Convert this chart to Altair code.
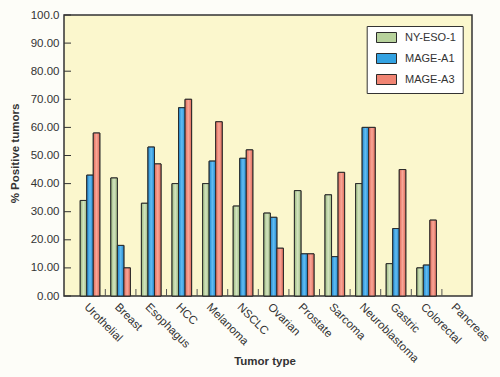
import altair as alt
import pandas as pd

categories = ["Urothelial", "Breast", "Esophagus", "HCC", "Melanoma", "NSCLC", "Ovarian",
              "Prostate", "Sarcoma", "Neuroblastoma", "Gastric", "Colorectal", "Pancreas"]
series_names = ["NY-ESO-1", "MAGE-A1", "MAGE-A3"]
ny_eso_1 = [34, 42, 33, 40, 40, 32, 29.5, 37.5, 36, 40, 11.5, 10, 0]
mage_a1 = [43, 18, 53, 67, 48, 49, 28, 15, 14, 60, 24, 11, 0]
mage_a3 = [58, 10, 47, 70, 62, 52, 17, 15, 44, 60, 45, 27, 0]
y_ticks = [0, 10, 20, 30, 40, 50, 60, 70, 80, 90, 100]

flat_colors = ["#B7D29C", "#33A2E2", "#F08473"]
edge_colors = ["#9BB97F", "#1E86CF", "#DE6A59"]
mid_colors = ["#D3E4BF", "#62BDF2", "#F9A697"]

rows = []
for name, vals in zip(series_names, [ny_eso_1, mage_a1, mage_a3]):
    for c, v in zip(categories, vals):
        rows.append({"cat": c, "series": name, "value": v})
df = pd.DataFrame(rows)

FONT = "Liberation Sans"
TXT = "#333333"


def grad(edge, mid):
    return {"gradient": "linear", "x1": 0, "y1": 0, "x2": 1, "y2": 0,
            "stops": [{"offset": 0, "color": edge}, {"offset": 0.5, "color": mid},
                      {"offset": 1, "color": edge}]}


x_scale = alt.Scale(domain=categories, paddingInner=0.36, paddingOuter=0.347, align=0.764)
xo_scale = alt.Scale(domain=series_names, paddingInner=0, paddingOuter=0)
y_scale = alt.Scale(domain=[0, 100], nice=False)

x_axis = alt.Axis(title="Tumor type", labelAngle=45, labelAlign="left", labelBaseline="top",
                  labelPadding=5, labelFontSize=11.5, labelColor=TXT, labelFont=FONT,
                  ticks=False, domain=False, grid=False,
                  titleFont=FONT, titleFontSize=11.5, titleFontWeight="bold", titleColor=TXT,
                  titleX=200.5, titleY=68, titleAlign="center", titleBaseline="alphabetic")
y_axis = alt.Axis(title="% Positive tumors", values=y_ticks,
                  labelExpr="datum.value == 100 ? '100.0' : format(datum.value, '.2f')",
                  labelPadding=5, labelFontSize=11.5, labelColor=TXT, labelFont=FONT,
                  ticks=False, domain=False, grid=False,
                  titleFont=FONT, titleFontSize=11.5, titleFontWeight="bold", titleColor=TXT,
                  titleX=-46, titleY=138, titleAngle=270, titleAlign="center",
                  titleBaseline="alphabetic")

legend = alt.Legend(title=None, orient="none", legendX=302.7, legendY=11,
                    symbolType="M-2,-1L2,-1L2,1L-2,1Z", symbolSize=100,
                    symbolOffset=8.3, symbolStrokeColor="#2b2b2b",
                    symbolStrokeWidth=1, symbolOpacity=1,
                    labelFont=FONT, labelFontSize=11, labelColor=TXT,
                    labelOffset=13, rowPadding=6, padding=6,
                    fillColor="#FFFFFF", strokeColor="#333333")

bars = alt.Chart(df).transform_filter("datum.value > 0").mark_bar(
    stroke="#2b2b2b", strokeWidth=1
).encode(
    x=alt.X("cat:N", sort=categories, scale=x_scale, axis=x_axis),
    xOffset=alt.XOffset("series:N", sort=series_names, scale=xo_scale),
    y=alt.Y("value:Q", scale=y_scale, axis=y_axis),
    color=alt.Color("series:N", sort=series_names,
                    scale=alt.Scale(domain=series_names, range=flat_colors),
                    legend=legend),
)

fill_cond = (alt.when(alt.datum.series == series_names[0]).then(alt.value(grad(edge_colors[0], mid_colors[0])))
             .when(alt.datum.series == series_names[1]).then(alt.value(grad(edge_colors[1], mid_colors[1])))
             .otherwise(alt.value(grad(edge_colors[2], mid_colors[2]))))

grad_bars = alt.Chart(df).transform_filter("datum.value > 0").mark_bar(
    stroke="#2b2b2b", strokeWidth=1
).encode(
    x=alt.X("cat:N", sort=categories, scale=x_scale, axis=x_axis),
    xOffset=alt.XOffset("series:N", sort=series_names, scale=xo_scale),
    y=alt.Y("value:Q", scale=y_scale, axis=y_axis),
    fill=fill_cond,
)

x_ticks = alt.Chart(pd.DataFrame({"cat": categories[1:]})).mark_rule(
    color="#555555", strokeWidth=1, xOffset=-5.5
).encode(
    x=alt.X("cat:N", bandPosition=0, scale=x_scale, axis=x_axis),
    y=alt.value(281), y2=alt.value(274),
)

y_tick_rules = alt.Chart(pd.DataFrame({"value": y_ticks})).mark_rule(
    color="#333333", strokeWidth=1
).encode(
    y=alt.Y("value:Q", scale=y_scale, axis=y_axis),
    x=alt.value(0), x2=alt.value(7),
)

chart = alt.layer(bars, grad_bars, x_ticks, y_tick_rules).properties(
    width=408, height=281,
    padding={"left": 64, "top": 15, "right": 28, "bottom": 81},
    autosize=alt.AutoSizeParams(type="none"),
    background="#FDFDF8",
).configure_view(
    fill="#FBF7CD", stroke="#333333", strokeWidth=1.5
)

chart.save("out.html", embed_options={"renderer": "svg", "actions": False})
